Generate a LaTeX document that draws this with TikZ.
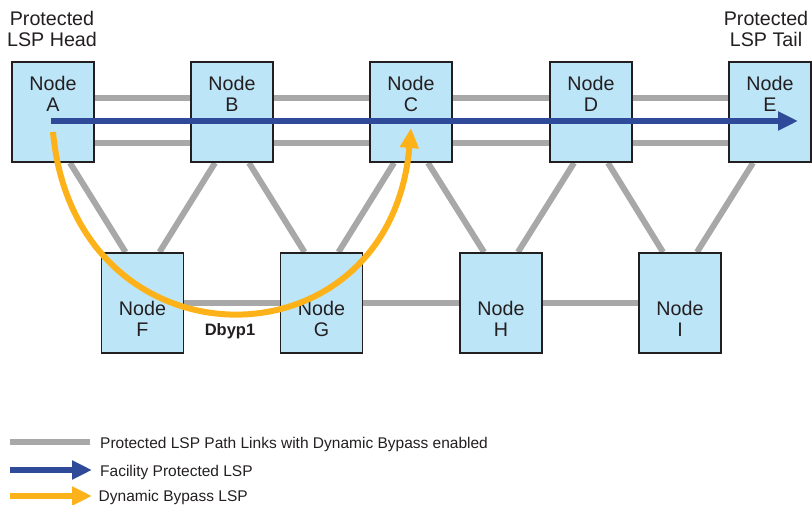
\documentclass[tikz,border=0pt]{standalone}
\usepackage{fontspec}
\setmainfont{Liberation Sans}
\usepackage{tikz}
\usetikzlibrary{arrows.meta,backgrounds,calc,positioning}
\definecolor{LinkGray}{HTML}{A8A8A8}
\definecolor{NodeFill}{HTML}{BDE5F8}
\definecolor{NodeEdge}{HTML}{231F20}
\definecolor{LSPBlue}{HTML}{2F4A98}
\definecolor{BypassOrange}{HTML}{FDB219}
\tikzset{
  router/.style={
    draw=NodeEdge,
    fill=NodeFill,
    line width=1.8pt,
    minimum width=82pt,
    minimum height=100pt,
    inner sep=0pt
  },
  routerlabel/.style={
    align=center,
    anchor=north,
    inner sep=0pt,
    text=NodeEdge,
    font=\fontsize{19.7}{21}\selectfont
  },
  headlabel/.style={routerlabel,align=center},
  link/.style={draw=LinkGray,line width=6pt},
  lspline/.style={draw=LSPBlue,line width=6.5pt,-{Triangle[length=20pt,width=18pt]}},
  bypassline/.style={draw=BypassOrange,line width=6pt,-{Triangle[length=20pt,width=18pt]}},
  legendtext/.style={anchor=base west,inner sep=0pt,text=NodeEdge,font=\fontsize{15.5}{17}\selectfont}
}
\newcommand{\routerbox}[4]{%
  \node[router] (#1) at (#2,#3) {};
  \node[routerlabel] (#1-name) at ([yshift=#4]#1.north) {Node\\#1};
}

\begin{document}
\begin{tikzpicture}[x=1pt,y=-1pt]
  \useasboundingbox (0,0) rectangle (812,505);
  % routers
  \routerbox{A}{53}{112}{-15pt}
  \routerbox{B}{232}{112}{-15pt}
  \routerbox{C}{411}{112}{-15pt}
  \routerbox{D}{591}{112}{-15pt}
  \routerbox{E}{770}{112}{-15pt}
  \routerbox{F}{142.5}{303}{-49pt}
  \routerbox{G}{321.5}{303}{-49pt}
  \routerbox{H}{501}{303}{-49pt}
  \routerbox{I}{680}{303}{-49pt}
  \node[headlabel] (head-label) at (52,11) {Protected\\LSP Head};
  \node[headlabel] (tail-label) at (766,11) {Protected\\LSP Tail};
  % links
  \begin{scope}[on background layer]
    \foreach \l/\r in {A/B,B/C,C/D,D/E} {
      \draw[link] ([yshift=14pt]\l.east) -- ([yshift=14pt]\r.west);
      \draw[link] ([yshift=-31pt]\l.east) -- ([yshift=-31pt]\r.west);
    }
    \foreach \l/\r in {F/G,G/H,H/I}
      \draw[link] (\l.east) -- (\r.west);
    \foreach \t/\b in {A/F,B/G,C/H,D/I}
      \draw[link] ([xshift=17pt]\t.south) -- ([xshift=-17pt]\b.north);
    \foreach \t/\b in {B/F,C/G,D/H,E/I}
      \draw[link] ([xshift=-17pt]\t.south) -- ([xshift=17pt]\b.north);
  \end{scope}
  % LSPs
  \coordinate (lsp-start) at ([xshift=-2pt,yshift=-9pt]A.center);
  \coordinate (lsp-end) at ([xshift=28pt,yshift=-9pt]E.center);
  \draw[lspline] (lsp-start) -- (lsp-end);
  \coordinate (byp-start) at ([yshift=-20pt]A.center);
  \coordinate (byp-end) at ([yshift=-16pt]C.center);
  \draw[bypassline] (byp-start) .. controls (75,373) and (390,373) .. (byp-end);
  \node[font=\fontsize{16.5}{18}\selectfont\bfseries,text=NodeEdge] (dbyp) at (230,331) {Dbyp1};
  % legend
  \coordinate (key1-a) at (10,442);
  \coordinate (key1-b) at (90,442);
  \coordinate (key2-a) at (10,470);
  \coordinate (key2-b) at (92,470);
  \coordinate (key3-a) at (10,496);
  \coordinate (key3-b) at (92,496);
  \draw[link] (key1-a) -- (key1-b);
  \draw[lspline] (key2-a) -- (key2-b);
  \draw[bypassline] (key3-a) -- (key3-b);
  \node[legendtext] (key1-text) at (100,448) {Protected LSP Path Links with Dynamic Bypass enabled};
  \node[legendtext] (key2-text) at (100,476) {Facility Protected LSP};
  \node[legendtext] (key3-text) at (98.5,501) {Dynamic Bypass LSP};
\end{tikzpicture}
\end{document}
